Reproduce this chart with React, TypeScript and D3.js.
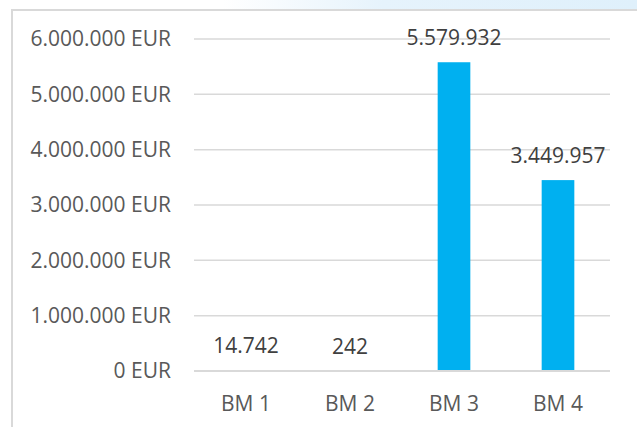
import React from "react";
import * as d3 from "d3";

const categories = ["BM 1", "BM 2", "BM 3", "BM 4"];
const values = [14742, 242, 5579932, 3449957];
const valueLabels = ["14.742", "242", "5.579.932", "3.449.957"];
const yTicks = [0, 1000000, 2000000, 3000000, 4000000, 5000000, 6000000];
const yTickLabels = ["0 EUR", "1.000.000 EUR", "2.000.000 EUR", "3.000.000 EUR", "4.000.000 EUR", "5.000.000 EUR", "6.000.000 EUR"];

const W = 637;
const H = 427;
const FONT = "'Open Sans', sans-serif";

export default function App() {
  const x = d3.scaleBand<string>().domain(categories).range([194, 610]).paddingInner(0).paddingOuter(0);
  const y = d3.scaleLinear().domain([0, 6000000]).range([371, 39]);
  const bw = x.bandwidth() * 0.314;

  return (
    <div style={{ position: "fixed", left: 0, top: 0 }}>
      <svg width={W} height={H} style={{ display: "block" }}>
        <defs>
          <linearGradient id="topband" x1="0" y1="0" x2="1" y2="0">
            <stop offset="0" stopColor="#ffffff" />
            <stop offset="0.35" stopColor="#ffffff" />
            <stop offset="0.6" stopColor="#e6f3fc" />
            <stop offset="1" stopColor="#dff0fb" />
          </linearGradient>
        </defs>
        <rect x={0} y={0} width={W} height={H} fill="#ffffff" />
        <rect x={0} y={0} width={W} height={9} fill="url(#topband)" />
        <line x1={12} x2={W} y1={10} y2={10} stroke="#d9d9d9" strokeWidth={2} />
        <line x1={12} x2={12} y1={9} y2={H} stroke="#d9d9d9" strokeWidth={2} />
        {yTicks.map((t, i) => (
          <g key={t}>
            {t !== 0 && (
              <line x1={194} x2={610} y1={y(t)} y2={y(t)} stroke="#d9d9d9" strokeWidth={1.5} />
            )}
            <text
              x={171}
              y={y(t)}
              dy="0.35em"
              textAnchor="end"
              fontFamily={FONT}
              fontSize={21}
              fill="#595959"
            >
              {yTickLabels[i]}
            </text>
          </g>
        ))}
        {categories.map((c, i) => (
          <rect
            key={c}
            x={(x(c) as number) + x.bandwidth() / 2 - bw / 2}
            y={y(values[i])}
            width={bw}
            height={y(0) - y(values[i])}
            fill="#00b0f0"
          />
        ))}
        <line x1={194} x2={610} y1={y(0)} y2={y(0)} stroke="#d9d9d9" strokeWidth={2} />
        {categories.map((c, i) => (
          <text
            key={"v" + c}
            x={(x(c) as number) + x.bandwidth() / 2}
            y={y(values[i]) - 17}
            textAnchor="middle"
            fontFamily={FONT}
            fontSize={21}
            fill="#404040"
          >
            {valueLabels[i]}
          </text>
        ))}
        {categories.map((c) => (
          <text
            key={"c" + c}
            x={(x(c) as number) + x.bandwidth() / 2}
            y={411}
            textAnchor="middle"
            fontFamily={FONT}
            fontSize={21}
            fill="#595959"
          >
            {c}
          </text>
        ))}
      </svg>
    </div>
  );
}
